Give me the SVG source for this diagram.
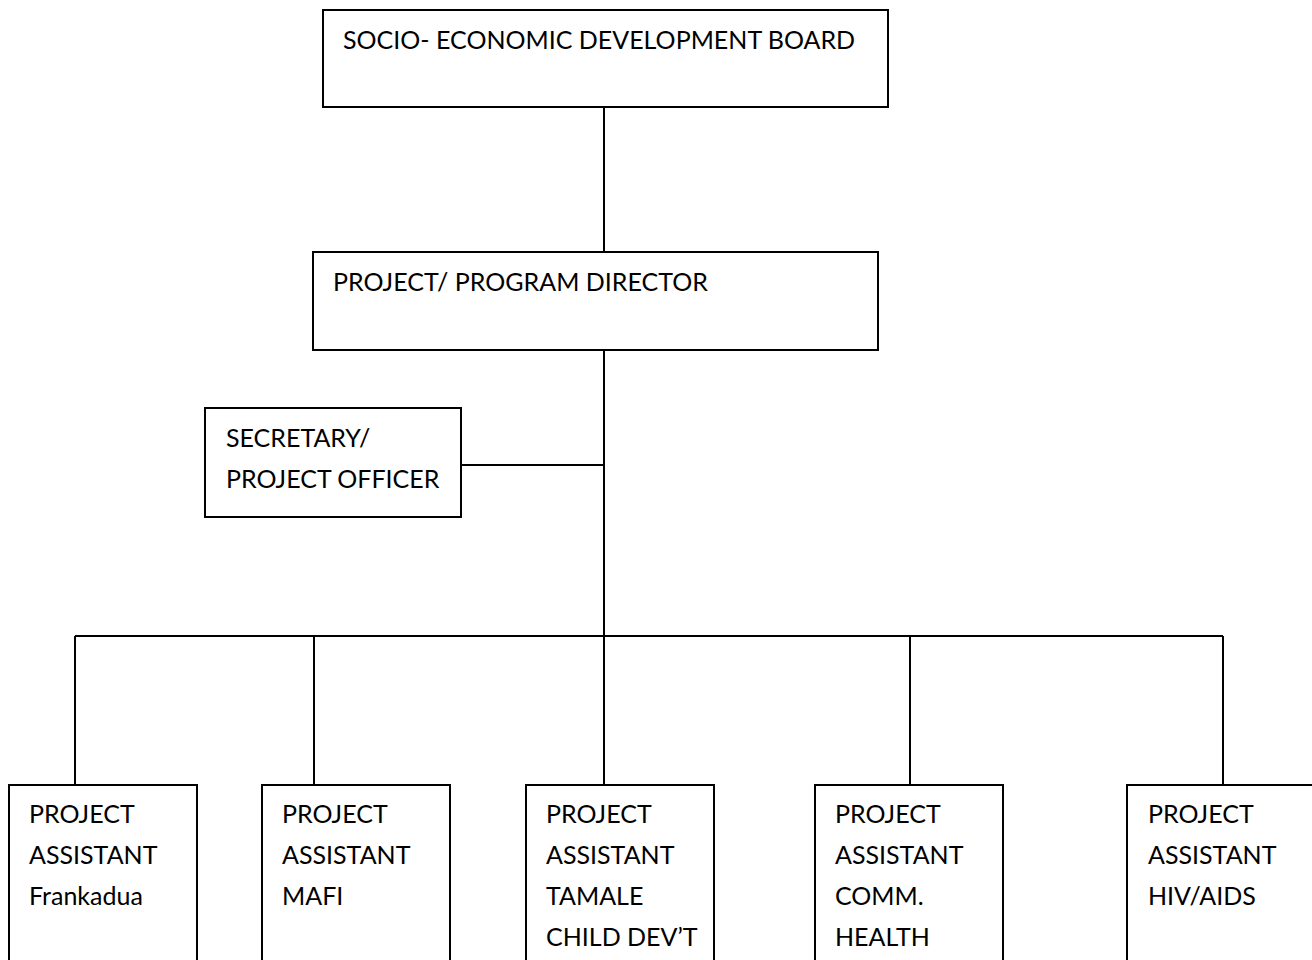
<svg xmlns="http://www.w3.org/2000/svg" width="1312" height="960" viewBox="0 0 1312 960">
<style>
.box{fill:#fff;stroke:#000;stroke-width:2}
.ln{stroke:#000;stroke-width:2;fill:none}
text{font-family:Lato,"Liberation Sans",sans-serif;font-size:25px;fill:#000}
</style>
<rect width="1312" height="960" fill="#fff"/>
<g id="connectors">
<path class="ln" d="M604 107V252M604 350V636M461 465H604M75 636H1223M75 636V785M314 636V785M604 636V785M910 636V785M1223 636V785"/>
</g>
<g id="board"><rect class="box" x="323" y="10" width="565" height="97"/><text x="343" y="49">SOCIO- ECONOMIC DEVELOPMENT BOARD</text></g>
<g id="director"><rect class="box" x="313" y="252" width="565" height="98"/><text x="333" y="291">PROJECT/ PROGRAM DIRECTOR</text></g>
<g id="secretary"><rect class="box" x="205" y="408" width="256" height="109"/><text x="226" y="447">SECRETARY/</text><text x="226" y="488">PROJECT OFFICER</text></g>
<g id="pa-frankadua"><rect class="box" x="9" y="785" width="188" height="190"/><text x="29" y="823">PROJECT</text><text x="29" y="864">ASSISTANT</text><text x="29" y="905">Frankadua</text></g>
<g id="pa-mafi"><rect class="box" x="262" y="785" width="188" height="190"/><text x="282" y="823">PROJECT</text><text x="282" y="864">ASSISTANT</text><text x="282" y="905">MAFI</text></g>
<g id="pa-tamale"><rect class="box" x="526" y="785" width="188" height="190"/><text x="546" y="823">PROJECT</text><text x="546" y="864">ASSISTANT</text><text x="546" y="905">TAMALE</text><text x="546" y="946">CHILD DEV’T</text></g>
<g id="pa-health"><rect class="box" x="815" y="785" width="188" height="190"/><text x="835" y="823">PROJECT</text><text x="835" y="864">ASSISTANT</text><text x="835" y="905">COMM.</text><text x="835" y="946">HEALTH</text></g>
<g id="pa-hiv"><rect class="box" x="1127" y="785" width="200" height="190"/><text x="1148" y="823">PROJECT</text><text x="1148" y="864">ASSISTANT</text><text x="1148" y="905">HIV/AIDS</text></g>
</svg>
